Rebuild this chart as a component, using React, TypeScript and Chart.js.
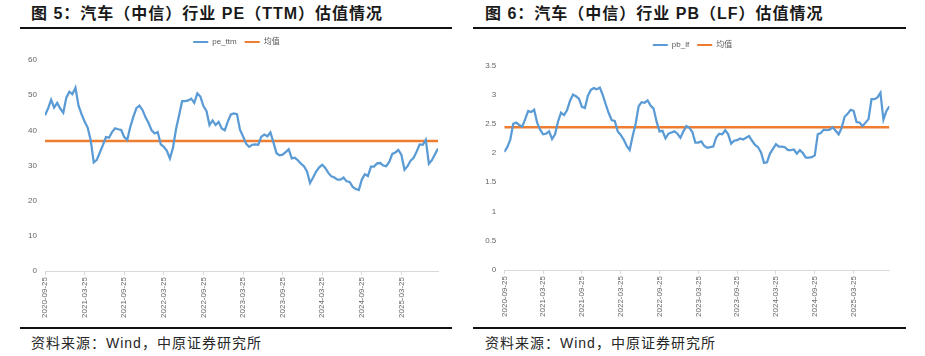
import React, { useEffect, useRef } from "react";
import { Chart, registerables } from "chart.js";

Chart.register(...registerables);

// ---- data ----
const tickDates = [
  "2020-09-25", "2021-03-25", "2021-09-25", "2022-03-25", "2022-09-25",
  "2023-03-25", "2023-09-25", "2024-03-25", "2024-09-25", "2025-03-25",
];
const pointsPerTick = 13; // bi-weekly samples per half year

const peTtm = [
  44.3, 46.2, 48.7, 46.5, 47.8, 46.2, 45.0, 49.3, 51.0, 50.3,
  52.1, 47.0, 44.6, 42.5, 40.8, 37.2, 30.9, 31.6, 33.7, 35.8,
  38.1, 37.9, 39.5, 40.6, 40.3, 40.1, 38.1, 37.3, 41.0, 43.8,
  46.3, 47.0, 45.8, 43.7, 42.1, 40.0, 39.1, 39.5, 36.0, 35.3,
  34.2, 32.0, 35.0, 40.3, 44.2, 48.3, 48.3, 48.5, 49.0, 47.8,
  50.5, 49.6, 46.9, 45.5, 41.5, 42.8, 41.5, 42.4, 40.5, 40.0,
  42.5, 44.5, 44.8, 44.6, 40.2, 38.3, 36.2, 35.3, 35.9, 36.0,
  35.9, 38.2, 38.8, 38.3, 39.4, 36.5, 33.5, 32.9, 33.1, 33.8,
  34.6, 32.0, 32.2, 31.5, 30.5, 29.8, 28.3, 25.0, 26.6, 28.3,
  29.5, 30.2, 29.3, 27.9, 26.9, 26.6, 26.0, 26.0, 26.6, 25.5,
  25.3, 23.9, 23.3, 23.0, 26.0, 27.5, 27.0, 29.7, 29.7, 30.6,
  30.7, 30.0, 29.8, 31.0, 33.3, 33.7, 34.4, 33.0, 28.8, 29.8,
  31.4, 32.2, 34.0, 36.0, 35.9, 37.3, 30.5, 31.5, 33.2, 34.8,
];
const peMean = 37.0;

const pbLf = [
  2.02, 2.10, 2.23, 2.50, 2.52, 2.48, 2.45, 2.58, 2.72, 2.70,
  2.74, 2.52, 2.40, 2.32, 2.33, 2.37, 2.24, 2.32, 2.54, 2.69,
  2.65, 2.73, 2.89, 3.00, 2.97, 2.93, 2.79, 2.77, 2.98, 3.08,
  3.11, 3.09, 3.12, 2.99, 2.83, 2.68, 2.56, 2.55, 2.37, 2.31,
  2.23, 2.12, 2.05, 2.29, 2.50, 2.80, 2.87, 2.86, 2.90, 2.81,
  2.76, 2.54, 2.37, 2.38, 2.25, 2.33, 2.35, 2.37, 2.33, 2.26,
  2.37, 2.46, 2.43, 2.36, 2.18, 2.18, 2.20, 2.12, 2.09, 2.10,
  2.11, 2.27, 2.33, 2.32, 2.39, 2.32, 2.16, 2.21, 2.22, 2.25,
  2.23, 2.26, 2.29, 2.21, 2.14, 2.10, 2.01, 1.83, 1.84, 1.99,
  2.07, 2.15, 2.11, 2.11, 2.10, 2.05, 2.05, 2.06, 1.99, 2.05,
  2.00, 1.92, 1.92, 1.93, 1.96, 2.32, 2.34, 2.40, 2.39, 2.40,
  2.44, 2.38, 2.32, 2.43, 2.62, 2.67, 2.74, 2.72, 2.53, 2.52,
  2.46, 2.52, 2.58, 2.92, 2.92, 2.95, 3.03, 2.57, 2.72, 2.80,
];
const pbMean = 2.44;

// ---- styles ----
const BLUE = "#5B9BD5";
const ORANGE = "#ED7D31";
const AXIS_TEXT = "#666666";
const AXIS_LINE = "#D9D9D9";
const TEXT_FONT = '"Liberation Sans", "Noto Sans CJK SC", sans-serif';

const legendTweakPlugin = {
  id: "legendTweak",
  beforeLayout(chart: any, _args: any, opts: any) {
    const lg = chart.legend;
    if (lg && !lg.__gapPatched) {
      const orig = lg.fit;
      lg.fit = function () {
        orig.call(this);
        this.height += (opts && opts.gap) || 0;
      };
      lg.__gapPatched = true;
    }
  },
  afterLayout(chart: any, _args: any, opts: any) {
    const lg = chart.legend;
    const dx = (opts && opts.dx) || 0;
    if (lg && dx) {
      lg.left += dx;
      lg.right += dx;
    }
  },
};

type ChartProps = {
  left: number; top: number; width: number; height: number;
  values: number[]; mean: number; name: string;
  yMax: number; yStep: number;
  padRight: number; padTop: number;
  yWidth: number; gap: number; legendDx: number;
};

function LineChart(p: ChartProps) {
  const ref = useRef<HTMLCanvasElement>(null);
  useEffect(() => {
    const last = p.values.length - 1;
    const tickFont = { family: TEXT_FONT, size: 8 };
    const chart = new Chart(ref.current as HTMLCanvasElement, {
      type: "line",
      data: {
        datasets: [
          {
            label: p.name,
            data: p.values.map((v, i) => ({ x: i, y: v })),
            borderColor: BLUE,
            backgroundColor: BLUE,
            borderWidth: 2.25,
            pointRadius: 0,
            tension: 0,
          },
          {
            label: "均值",
            data: [{ x: 0, y: p.mean }, { x: last, y: p.mean }],
            borderColor: ORANGE,
            backgroundColor: ORANGE,
            borderWidth: 2.5,
            pointRadius: 0,
          },
        ],
      },
      plugins: [legendTweakPlugin as any],
      options: {
        animation: false,
        responsive: false,
        maintainAspectRatio: false,
        events: [],
        layout: { padding: { left: 0, right: p.padRight, top: p.padTop, bottom: 0 } },
        plugins: {
          legendTweak: { gap: p.gap, dx: p.legendDx },
          tooltip: { enabled: false },
          legend: {
            position: "top",
            labels: {
              boxWidth: 15,
              boxHeight: 2,
              padding: 8,
              color: "#595959",
              font: { family: TEXT_FONT, size: 8 },
              generateLabels: (c: any) =>
                (Chart.defaults.plugins.legend.labels.generateLabels as any)(c).map((l: any) => ({ ...l, lineWidth: 0 })),
            },
          },
        } as any,
        scales: {
          x: {
            type: "linear",
            min: 0,
            max: last,
            afterFit: (s: any) => { s.height = 50; },
            border: { display: true, color: AXIS_LINE, width: 1 },
            grid: { drawOnChartArea: false, drawTicks: true, tickLength: 4, color: AXIS_LINE },
            ticks: {
              stepSize: pointsPerTick,
              includeBounds: false,
              autoSkip: false,
              minRotation: 90,
              maxRotation: 90,
              padding: 2,
              color: AXIS_TEXT,
              font: tickFont,
              callback: (v: any) => tickDates[Math.round(v / pointsPerTick)] ?? "",
            },
          },
          y: {
            min: 0,
            max: p.yMax,
            afterFit: (s: any) => { s.width = p.yWidth; },
            border: { display: false },
            grid: { display: false, drawTicks: false },
            ticks: {
              stepSize: p.yStep,
              padding: 8,
              color: AXIS_TEXT,
              font: tickFont,
              callback: (v: any) => String(Number(Number(v).toFixed(2))),
            },
          },
        },
      },
    });
    return () => chart.destroy();
  }, []);
  return (
    <canvas
      ref={ref}
      width={p.width}
      height={p.height}
      style={{ position: "absolute", left: p.left, top: p.top, width: p.width, height: p.height }}
    />
  );
}

const titleStyle: React.CSSProperties = {
  position: "absolute",
  top: 4,
  fontFamily: TEXT_FONT,
  fontWeight: "bold",
  fontSize: 16,
  lineHeight: "20px",
  letterSpacing: "1px",
  color: "#1a1a1a",
  whiteSpace: "nowrap",
};
const footStyle: React.CSSProperties = {
  position: "absolute",
  top: 335,
  fontFamily: TEXT_FONT,
  fontSize: 14,
  lineHeight: "16px",
  letterSpacing: "1px",
  color: "#262626",
  whiteSpace: "nowrap",
};
const rule = (left: number, top: number, width: number): React.CSSProperties => ({
  position: "absolute", left, top, width, height: 2, background: "#111",
});

export default function App() {
  return (
    <div style={{ position: "absolute", left: 0, top: 0, width: 925, height: 356, background: "#fff", overflow: "hidden" }}>
      <div style={{ ...titleStyle, left: 31 }}>图 5：汽车（中信）行业 PE（TTM）估值情况</div>
      <div style={rule(20, 27, 432)} />
      <LineChart
        left={20} top={30} width={433} height={291}
        values={peTtm} mean={peMean} name="pe_ttm"
        yMax={60} yStep={10}
        padRight={15} padTop={0} yWidth={25} gap={4} legendDx={7.5}
      />
      <div style={rule(20, 327, 432)} />
      <div style={{ ...footStyle, left: 31 }}>资料来源：Wind，中原证券研究所</div>

      <div style={{ ...titleStyle, left: 485 }}>图 6：汽车（中信）行业 PB（LF）估值情况</div>
      <div style={rule(473, 27, 433)} />
      <LineChart
        left={473} top={30} width={433} height={290}
        values={pbLf} mean={pbMean} name="pb_lf"
        yMax={3.5} yStep={0.5}
        padRight={16.6} padTop={3} yWidth={31.3} gap={6.3} legendDx={11.3}
      />
      <div style={rule(473, 327, 433)} />
      <div style={{ ...footStyle, left: 485 }}>资料来源：Wind，中原证券研究所</div>
    </div>
  );
}
